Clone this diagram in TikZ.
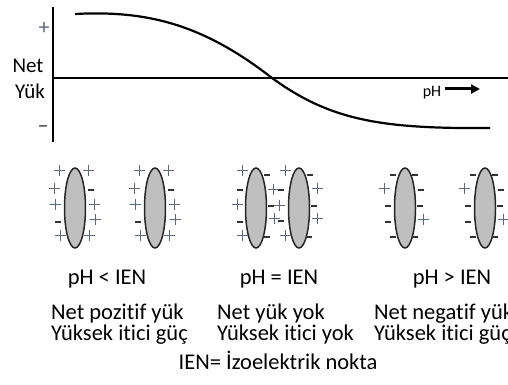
\documentclass[tikz,border=0pt]{standalone}
\usepackage{fontspec}
\setmainfont{Carlito}[Ligatures=NoCommon]
\usetikzlibrary{shapes.geometric,arrows.meta,calc}
\definecolor{plusgray}{RGB}{95,105,125}
\begin{document}
\begin{tikzpicture}[x=1pt,y=-1pt,
  axis/.style={line width=2pt,black},
  curve/.style={line width=2.2pt,black},
  blob/.style={ellipse,draw=black!85,fill=black!25,line width=1.5pt,minimum width=21pt,minimum height=80pt,inner sep=0pt},
  plusc/.style={line width=1pt,draw=plusgray},
  minusc/.style={line width=1.8pt,draw=black!80},
  chp/.pic={\draw[plusc] (-5.5,0)--(5.5,0) (0,-5.5)--(0,5.5);},
  chm/.pic={\draw[minusc] (-2.8,0)--(2.8,0);},
  lab/.style={font=\fontsize{22.5}{26}\selectfont,inner sep=0pt,anchor=base},
  lablft/.style={lab,anchor=base west},
  small/.style={font=\fontsize{16}{20}\selectfont,inner sep=0pt,anchor=base}
]
\useasboundingbox (0,0) rectangle (508,385);
% axes
\coordinate (ytop) at (53,7);
\coordinate (ybot) at (53,142);
\coordinate (xl) at (53,78);
\coordinate (xr) at (508,78);
\draw[axis] (ytop) -- (ybot);
\draw[axis] (xl) -- (xr);
\node[font=\fontsize{22}{24}\selectfont,inner sep=0pt,text=plusgray] (pl) at (44,28) {+};
\node[font=\fontsize{22}{24}\selectfont,inner sep=0pt,text=black!80] (mi) at (43,129) {\char"2013};
\node[font=\fontsize{21}{24}\selectfont,inner sep=0pt,anchor=base] (net) at (28,73) {Net};
\node[font=\fontsize{21}{24}\selectfont,inner sep=0pt,anchor=base] (yuk) at (30,99) {Yük};
% curve
\coordinate (c0) at (75,14);
\coordinate (cm) at (272,78);
\coordinate (c1) at (490,128);
\draw[curve] (c0) .. controls (150,10) and (205,26) .. (cm) .. controls (330,120) and (380,129) .. (c1);
% pH arrow
\node[small] (ph) at (432,97) {pH};
\coordinate (a0) at (445,89);
\coordinate (a1) at (480,89);
\draw[line width=3pt,-{Triangle[length=9pt,width=9pt]}] (a0) -- (a1);
% ellipses
\node[blob] (e1) at (75,208) {};
\node[blob] (e2) at (155,208) {};
\node[blob] (e3) at (256,208) {};
\node[blob] (e4) at (299,208) {};
\node[blob] (e5) at (405,208) {};
\node[blob] (e6) at (485,208) {};
% charges, positive side
\foreach \e in {e1,e2}{
  \foreach \dx/\dy in {-16/-38,13/-38,-21/-20,-20/-4,19/-4,20/11,-15/27,14/27}
    \pic at ($(\e)+(\dx,\dy)$) {chp};
  \foreach \dx/\dy in {16/-18,-17/14}
    \pic at ($(\e)+(\dx,\dy)$) {chm};
}
% neutral
\foreach \dx/\dy in {-14/-38,-19/-4,17/-19,18/10,-14/27}
  \pic at ($(e3)+(\dx,\dy)$) {chp};
\foreach \dx/\dy in {11/-33,-16/-18,15/-2,-16/14,11/29}
  \pic at ($(e3)+(\dx,\dy)$) {chm};
\foreach \dx/\dy in {-14/-38,-20/-3,18/-20,18/10,-14/27}
  \pic at ($(e4)+(\dx,\dy)$) {chp};
\foreach \dx/\dy in {11/-33,-18/-18,15/-2,-18/13,10/29}
  \pic at ($(e4)+(\dx,\dy)$) {chm};
% negative side
\foreach \e in {e5,e6}{
  \foreach \dx/\dy in {-21/-20,18/11}
    \pic at ($(\e)+(\dx,\dy)$) {chp};
  \foreach \dx/\dy in {-12/-33,10/-33,16/-18,-17/-2,15/-2,-17/14,-12/29,10/29}
    \pic at ($(\e)+(\dx,\dy)$) {chm};
}
% labels
\node[lab] (t1) at (107,284) {pH < IEN};
\node[lab] (t2) at (279,284) {pH = IEN};
\node[lab] (t3) at (452,284) {pH > IEN};
\node[lablft] (d1a) at (51,319) {Net pozitif yük};
\node[lablft] (d1b) at (51,340) {Yüksek itici güç};
\node[lablft] (d2a) at (217,319) {Net yük yok};
\node[lablft] (d2b) at (217,340) {Yüksek itici yok};
\node[lablft] (d3a) at (374,319) {Net negatif yük};
\node[lablft] (d3b) at (374,340) {Yüksek itici güç};
\node[lab] (ien) at (278,369) {IEN= İzoelektrik nokta};
\end{tikzpicture}
\end{document}
